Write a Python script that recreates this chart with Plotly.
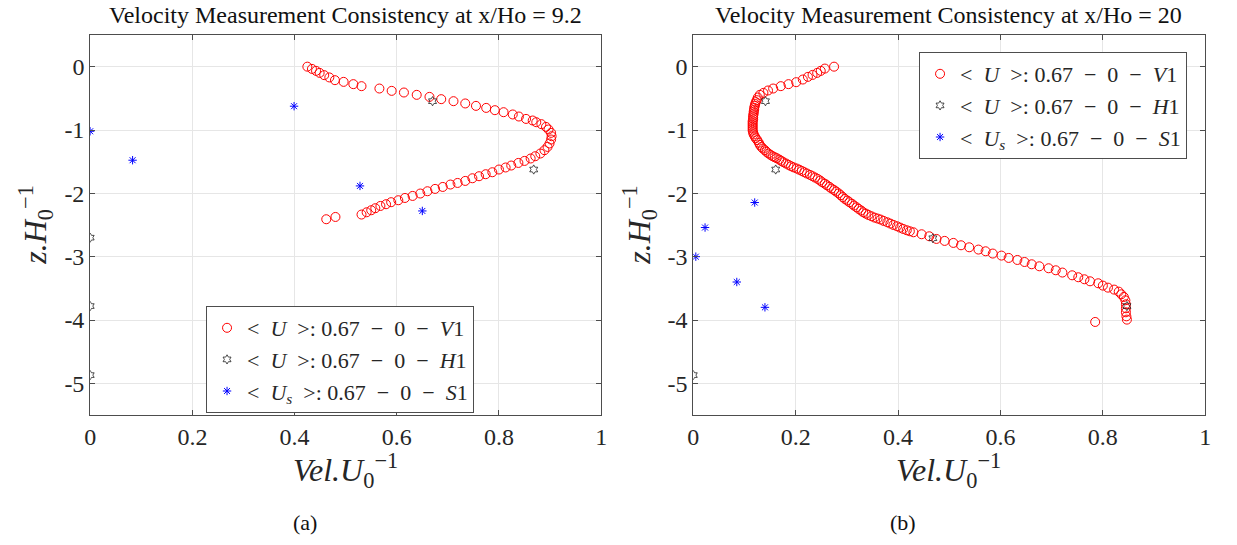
import plotly.graph_objects as go

# ---------------- data: panel (a) x/Ho = 9.2 ----------------
a_v1_x = [0.425, 0.434, 0.442, 0.449, 0.458, 0.468, 0.479, 0.496, 0.515, 0.531, 0.566, 0.590, 0.614, 0.639,
          0.664, 0.687, 0.711, 0.734, 0.755, 0.775, 0.792, 0.809, 0.827, 0.839, 0.853, 0.866, 0.873, 0.883,
          0.892, 0.897, 0.902, 0.903, 0.902, 0.899, 0.895, 0.889, 0.881, 0.871, 0.862, 0.850, 0.838, 0.824,
          0.813, 0.800, 0.787, 0.774, 0.761, 0.748, 0.734, 0.719, 0.705, 0.690, 0.675, 0.660, 0.646, 0.631,
          0.616, 0.603, 0.589, 0.579, 0.568, 0.558, 0.550, 0.541, 0.531, 0.480, 0.462]
a_v1_z = [0.0, -0.035, -0.066, -0.098, -0.134, -0.170, -0.213, -0.240, -0.276, -0.308, -0.345, -0.382, -0.408,
          -0.445, -0.477, -0.513, -0.545, -0.581, -0.619, -0.651, -0.687, -0.719, -0.755, -0.787, -0.825,
          -0.850, -0.877, -0.908, -0.951, -0.992, -1.045, -1.098, -1.150, -1.213, -1.267, -1.319, -1.371,
          -1.414, -1.450, -1.488, -1.520, -1.561, -1.592, -1.624, -1.667, -1.698, -1.730, -1.762, -1.804,
          -1.836, -1.861, -1.899, -1.930, -1.967, -2.003, -2.041, -2.073, -2.109, -2.140, -2.172, -2.199,
          -2.235, -2.267, -2.299, -2.335, -2.373, -2.409]
a_h1_x = [0.670, 0.868, 0.0, 0.0, 0.0]
a_h1_z = [-0.545, -1.624, -2.70, -3.78, -4.87]
a_s1_x = [0.399, 0.528, 0.650, 0.0, 0.083]
a_s1_z = [-0.624, -1.883, -2.278, -1.02, -1.477]

# ---------------- data: panel (b) x/Ho = 20 ----------------
b_v1_x = [0.275, 0.257, 0.249, 0.242, 0.233, 0.224, 0.214, 0.201, 0.186, 0.171, 0.156, 0.146, 0.137, 0.130,
          0.126, 0.124, 0.122, 0.121, 0.120, 0.119, 0.119, 0.118, 0.118, 0.117, 0.117, 0.117, 0.116, 0.116,
          0.116, 0.116, 0.116, 0.116, 0.117, 0.118, 0.120, 0.122, 0.125, 0.128, 0.130, 0.133, 0.136, 0.140,
          0.143, 0.147, 0.151, 0.155, 0.159, 0.163, 0.168, 0.172, 0.176, 0.181, 0.186, 0.191, 0.196, 0.202,
          0.207, 0.212, 0.217, 0.222, 0.228, 0.233, 0.238, 0.243, 0.248, 0.252, 0.257, 0.261, 0.266, 0.270,
          0.275, 0.279, 0.284, 0.288, 0.292, 0.296, 0.301, 0.305, 0.310, 0.314, 0.319, 0.323, 0.328, 0.332,
          0.337, 0.342, 0.348, 0.354, 0.360, 0.366, 0.372, 0.379, 0.385, 0.391, 0.398, 0.404, 0.410, 0.417,
          0.423, 0.430, 0.446, 0.461, 0.475, 0.491, 0.508, 0.523, 0.539, 0.557, 0.571, 0.585, 0.602, 0.616,
          0.633, 0.647, 0.661, 0.676, 0.694, 0.708, 0.721, 0.740, 0.752, 0.764, 0.775, 0.791, 0.800, 0.810,
          0.822, 0.831, 0.836, 0.841, 0.844, 0.845, 0.845, 0.845, 0.846, 0.847, 0.785]
b_v1_z = [0.0, -0.030, -0.066, -0.098, -0.130, -0.161, -0.203, -0.245, -0.276, -0.308, -0.345, -0.376, -0.414,
          -0.445, -0.487, -0.529, -0.560, -0.590, -0.620, -0.650, -0.680, -0.710, -0.740, -0.770, -0.800,
          -0.830, -0.860, -0.890, -0.920, -0.950, -0.980, -1.010, -1.040, -1.070, -1.100, -1.130, -1.160,
          -1.200, -1.235, -1.267, -1.293, -1.319, -1.345, -1.371, -1.393, -1.414, -1.430, -1.445, -1.467,
          -1.488, -1.508, -1.529, -1.550, -1.572, -1.590, -1.608, -1.627, -1.646, -1.667, -1.687, -1.709,
          -1.730, -1.751, -1.772, -1.799, -1.825, -1.848, -1.872, -1.898, -1.924, -1.948, -1.972, -2.001,
          -2.030, -2.059, -2.088, -2.114, -2.140, -2.166, -2.193, -2.220, -2.246, -2.272, -2.299, -2.320,
          -2.341, -2.362, -2.383, -2.398, -2.414, -2.436, -2.457, -2.478, -2.499, -2.520, -2.541, -2.562,
          -2.583, -2.599, -2.615, -2.646, -2.678, -2.720, -2.751, -2.783, -2.820, -2.852, -2.888, -2.915,
          -2.951, -2.983, -3.020, -3.052, -3.084, -3.120, -3.152, -3.183, -3.215, -3.251, -3.294, -3.325,
          -3.357, -3.389, -3.420, -3.457, -3.489, -3.520, -3.552, -3.594, -3.636, -3.689, -3.752, -3.815,
          -3.878, -3.942, -3.994, -4.031]
b_h1_x = [0.141, 0.161, 0.468, 0.847, 0.0]
b_h1_z = [-0.545, -1.624, -2.709, -3.780, -4.870]
b_s1_x = [0.120, 0.023, 0.005, 0.085, 0.140]
b_s1_z = [-2.145, -2.540, -3.000, -3.400, -3.800]

x_ticks = [0, 0.2, 0.4, 0.6, 0.8, 1]
x_tick_labels = ["0", "0.2", "0.4", "0.6", "0.8", "1"]
y_ticks = [0, -1, -2, -3, -4, -5]
y_tick_labels = ["0", "-1", "-2", "-3", "-4", "-5"]

titles = ["Velocity Measurement Consistency at x/Ho = 9.2",
          "Velocity Measurement Consistency at x/Ho = 20"]
panel_labels = ["(a)", "(b)"]
SP = "\u2002"
leg_v1 = f"&lt;{SP}<i>U</i>{SP}&gt;: 0.67{SP}−{SP}0{SP}−{SP}<i>V</i>1"
leg_h1 = f"&lt;{SP}<i>U</i>{SP}&gt;: 0.67{SP}−{SP}0{SP}−{SP}<i>H</i>1"
leg_s1 = f"&lt;{SP}<i>U<sub>s</sub></i>{SP}&gt;: 0.67{SP}−{SP}0{SP}−{SP}<i>S</i>1"

FONT = "Liberation Serif, Times New Roman, serif"
W, H = 1237, 545

fig = go.Figure()

panels = [
    (a_v1_x, a_v1_z, a_h1_x, a_h1_z, a_s1_x, a_s1_z, "x", "y", "legend"),
    (b_v1_x, b_v1_z, b_h1_x, b_h1_z, b_s1_x, b_s1_z, "x2", "y2", "legend2"),
]
for vx, vz, hx, hz, sx, sz, xa, ya, lg in panels:
    fig.add_trace(go.Scatter(x=vx, y=vz, mode="markers", name=leg_v1, xaxis=xa, yaxis=ya, legend=lg,
                             marker=dict(symbol="circle-open", size=9, color="#ff0000", line=dict(width=1))))
    fig.add_trace(go.Scatter(x=hx, y=hz, mode="markers", name=leg_h1, xaxis=xa, yaxis=ya, legend=lg,
                             marker=dict(symbol="hexagram-open", size=7, color="#222222", line=dict(width=0.8))))
    fig.add_trace(go.Scatter(x=sx, y=sz, mode="markers", name=leg_s1, xaxis=xa, yaxis=ya, legend=lg,
                             marker=dict(symbol="asterisk-open", size=7, color="#0000ff", line=dict(width=1))))

def px_x(p):
    return p / W

def px_y(p):
    return 1 - p / H

axis_common = dict(showline=True, linecolor="#4d4d4d", linewidth=1, mirror="ticks", ticks="inside",
                   ticklen=5, tickcolor="#4d4d4d", showgrid=True, gridcolor="#e6e6e6", zeroline=False,
                   tickfont=dict(family=FONT, size=24, color="#262626"))

ydom = [px_y(415), px_y(35)]
leg_font = dict(family=FONT, size=22, color="#262626")
fig.update_layout(
    width=W, height=H, margin=dict(l=0, r=0, t=0, b=0),
    paper_bgcolor="white", plot_bgcolor="white", showlegend=True,
    xaxis=dict(domain=[px_x(85), px_x(601)], range=[0, 1], tickvals=x_ticks, ticktext=x_tick_labels,
               anchor="y", **axis_common),
    yaxis=dict(domain=ydom, range=[-5.5, 0.5], tickvals=y_ticks, ticktext=y_tick_labels,
               anchor="x", **axis_common),
    xaxis2=dict(domain=[px_x(694), px_x(1211)], range=[0, 1], tickvals=x_ticks, ticktext=x_tick_labels,
                anchor="y2", **axis_common),
    yaxis2=dict(domain=ydom, range=[-5.5, 0.5], tickvals=y_ticks, ticktext=y_tick_labels,
                anchor="x2", **axis_common),
    legend=dict(x=px_x(202), y=px_y(306), xanchor="left", yanchor="top", bgcolor="white",
                bordercolor="#4d4d4d", borderwidth=1, font=leg_font, itemwidth=30, tracegroupgap=0),
    legend2=dict(x=px_x(922), y=px_y(52), xanchor="left", yanchor="top", bgcolor="white",
                 bordercolor="#4d4d4d", borderwidth=1, font=leg_font, itemwidth=30, tracegroupgap=0),
)

centers = [343, 952]
for i, cx in enumerate(centers):
    fig.add_annotation(text=titles[i], x=px_x(cx), y=px_y(15), xref="paper", yref="paper",
                       xanchor="center", yanchor="middle", showarrow=False,
                       font=dict(family=FONT, size=24, color="#111111"))
    fig.add_annotation(text="<i>Vel.U</i><sub>0</sub><sup>−1</sup>", x=px_x(cx), y=px_y(470),
                       xref="paper", yref="paper", xanchor="center", yanchor="middle", showarrow=False,
                       font=dict(family=FONT, size=32, color="#262626"))
    fig.add_annotation(text=panel_labels[i], x=px_x(cx - 41 if i == 0 else cx - 46), y=px_y(522),
                       xref="paper", yref="paper", xanchor="center", yanchor="middle", showarrow=False,
                       font=dict(family=FONT, size=22, color="#111111"))
for ylx in [30, 640]:
    fig.add_annotation(text="<i>z.H</i><sub>0</sub><sup>−1</sup>", x=px_x(ylx), y=px_y(225),
                       xref="paper", yref="paper", xanchor="center", yanchor="middle", showarrow=False,
                       textangle=-90, font=dict(family=FONT, size=32, color="#262626"))

fig.write_html("out.html")
